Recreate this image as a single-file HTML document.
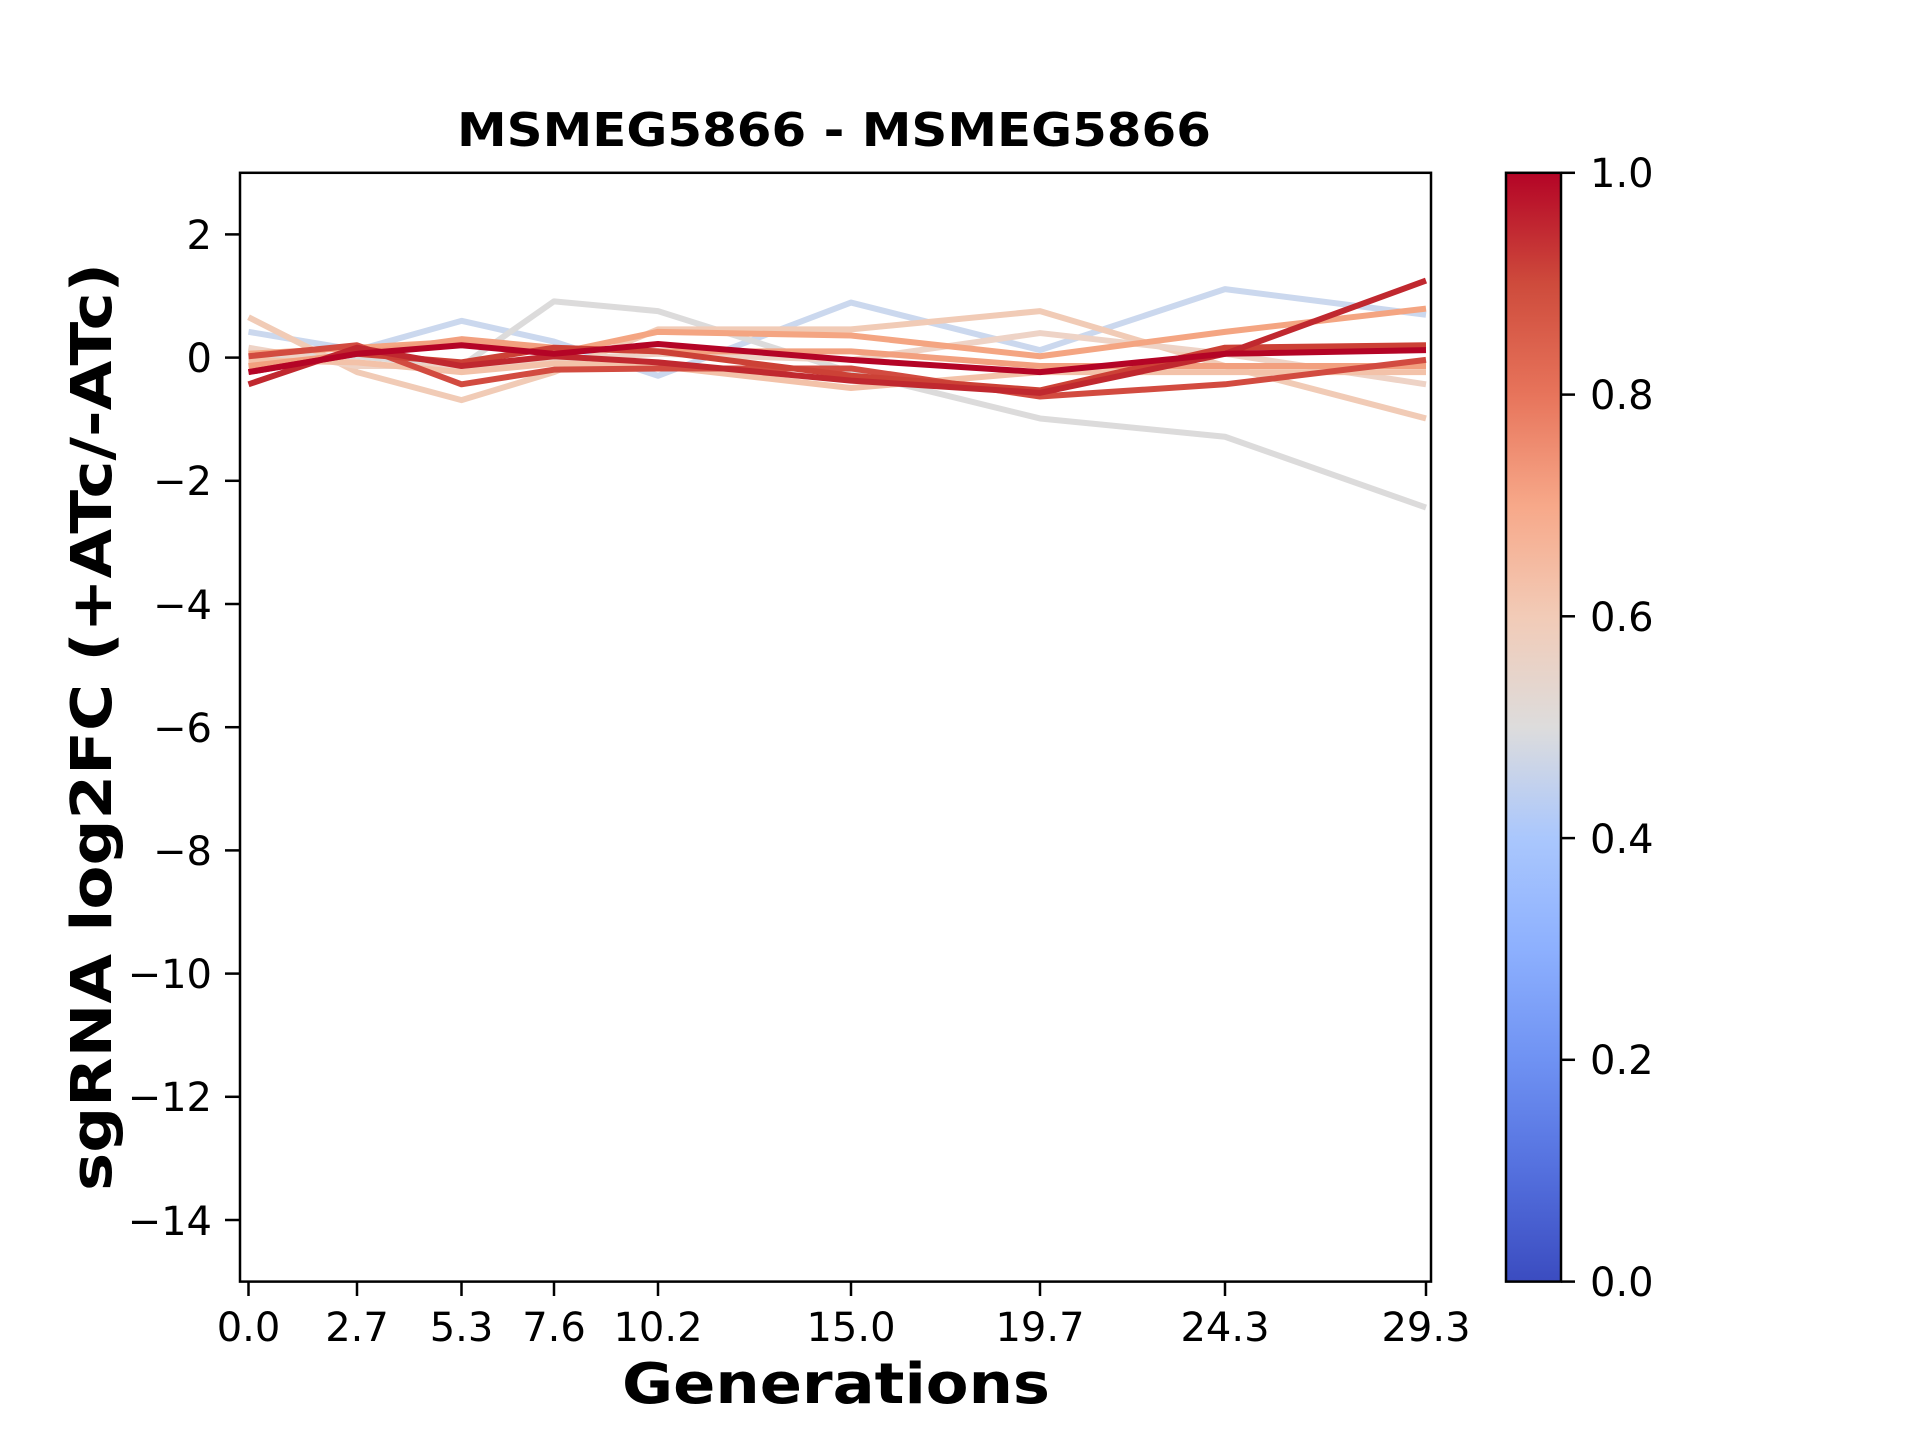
<!DOCTYPE html>
<html><head><meta charset="utf-8"><style>html,body{margin:0;padding:0;background:#fff}svg{display:block}</style></head>
<body>
<svg width="1920" height="1440" xmlns="http://www.w3.org/2000/svg" font-family="'DejaVu Sans','Liberation Sans',sans-serif">
<defs>
<linearGradient id="cw" x1="0" y1="1" x2="0" y2="0">
<stop offset="0" stop-color="#3b4cc0"/><stop offset="0.1" stop-color="#5470de"/><stop offset="0.2" stop-color="#6f92f3"/><stop offset="0.3" stop-color="#8db0fe"/><stop offset="0.4" stop-color="#aac7fd"/><stop offset="0.5" stop-color="#dddcdc"/><stop offset="0.6" stop-color="#f2cbb7"/><stop offset="0.7" stop-color="#f7a889"/><stop offset="0.8" stop-color="#e7745b"/><stop offset="0.9" stop-color="#ce4b3c"/><stop offset="1" stop-color="#b40426"/>
</linearGradient>
<clipPath id="ax"><rect x="240" y="172.8" width="1191" height="1108.8"/></clipPath>
</defs>
<text x="834" y="146" font-size="46" font-weight="bold" text-anchor="middle" textLength="754" lengthAdjust="spacingAndGlyphs">MSMEG5866 - MSMEG5866</text>
<g clip-path="url(#ax)" fill="none" stroke-width="6" stroke-linejoin="round">
<g transform="scale(1,1.22)">
<polyline vector-effect="non-scaling-stroke" stroke="#cbd8ee" points="248.5,272 357,287 461.5,263 554,280 658,308 851,248 1040,287 1225,237 1426,258"/>
<polyline vector-effect="non-scaling-stroke" stroke="#dcdbdb" points="248.5,292 357,292 461.5,300 554,247 658,255 851,305 1040,343 1225,358 1426,416"/>
<polyline vector-effect="non-scaling-stroke" stroke="#f1cbb6" points="248.5,260 357,305 461.5,328 554,305 658,270 851,270 1040,255 1225,300 1426,343"/>
<polyline vector-effect="non-scaling-stroke" stroke="#eed3c6" points="248.5,285 357,300 461.5,300 554,295 658,290 851,295 1040,273 1225,290 1426,315"/>
<polyline vector-effect="non-scaling-stroke" stroke="#f3c2a9" points="248.5,295 357,297 461.5,305 554,298 658,300 851,318 1040,305 1225,305 1426,305"/>
<polyline vector-effect="non-scaling-stroke" stroke="#f4a582" points="248.5,290 357,285 461.5,280 554,290 658,272 851,275 1040,292 1225,272 1426,253"/>
<polyline vector-effect="non-scaling-stroke" stroke="#f2a07f" points="248.5,300 357,290 461.5,278 554,285 658,288 851,288 1040,300 1225,300 1426,300"/>
<polyline vector-effect="non-scaling-stroke" stroke="#d24b40" points="248.5,292 357,283 461.5,315 554,303 658,302 851,302 1040,325 1225,315 1426,295"/>
<polyline vector-effect="non-scaling-stroke" stroke="#cc4136" points="248.5,305 357,290 461.5,297 554,285 658,288 851,308 1040,320 1225,285 1426,283"/>
<polyline vector-effect="non-scaling-stroke" stroke="#c0282f" points="248.5,315 357,285 461.5,300 554,292 658,297 851,312 1040,322 1225,290 1426,230"/>
<polyline vector-effect="non-scaling-stroke" stroke="#b40426" points="248.5,305 357,290 461.5,283 554,290 658,282 851,295 1040,305 1225,290 1426,287"/>
</g>
</g>
<rect x="240" y="172.8" width="1191" height="1108.8" fill="none" stroke="#000" stroke-width="2.5"/>
<g stroke="#000" stroke-width="2.5">
<line x1="225" x2="240" y1="234.4" y2="234.4"/><line x1="225" x2="240" y1="357.6" y2="357.6"/><line x1="225" x2="240" y1="480.8" y2="480.8"/><line x1="225" x2="240" y1="604" y2="604"/><line x1="225" x2="240" y1="727.2" y2="727.2"/><line x1="225" x2="240" y1="850.4" y2="850.4"/><line x1="225" x2="240" y1="973.6" y2="973.6"/><line x1="225" x2="240" y1="1096.8" y2="1096.8"/><line x1="225" x2="240" y1="1220" y2="1220"/>
<line x1="248.5" x2="248.5" y1="1281.6" y2="1296"/><line x1="357" x2="357" y1="1281.6" y2="1296"/><line x1="461.5" x2="461.5" y1="1281.6" y2="1296"/><line x1="554" x2="554" y1="1281.6" y2="1296"/><line x1="658" x2="658" y1="1281.6" y2="1296"/><line x1="851" x2="851" y1="1281.6" y2="1296"/><line x1="1040" x2="1040" y1="1281.6" y2="1296"/><line x1="1225" x2="1225" y1="1281.6" y2="1296"/><line x1="1426" x2="1426" y1="1281.6" y2="1296"/>
</g>
<g font-size="40" text-anchor="end">
<text x="212" y="249">2</text><text x="212" y="372">0</text><text x="212" y="495">−2</text><text x="212" y="619">−4</text><text x="212" y="742">−6</text><text x="212" y="865">−8</text><text x="212" y="988">−10</text><text x="212" y="1111">−12</text><text x="212" y="1235">−14</text>
</g>
<g font-size="40" text-anchor="middle">
<text x="248.5" y="1341">0.0</text><text x="357" y="1341">2.7</text><text x="461.5" y="1341">5.3</text><text x="554" y="1341">7.6</text><text x="658" y="1341">10.2</text><text x="851" y="1341">15.0</text><text x="1040" y="1341">19.7</text><text x="1225" y="1341">24.3</text><text x="1426" y="1341">29.3</text>
</g>
<text x="836" y="1403" font-size="56" font-weight="bold" text-anchor="middle" textLength="428" lengthAdjust="spacingAndGlyphs">Generations</text>
<text transform="translate(111,727) rotate(-90)" font-size="56" font-weight="bold" text-anchor="middle" textLength="928" lengthAdjust="spacingAndGlyphs">sgRNA log2FC (+ATc/-ATc)</text>
<rect x="1506" y="172.8" width="55" height="1108.8" fill="url(#cw)" stroke="#000" stroke-width="2.5"/>
<g stroke="#000" stroke-width="2.5">
<line x1="1561" x2="1575" y1="172.8" y2="172.8"/><line x1="1561" x2="1575" y1="394.6" y2="394.6"/><line x1="1561" x2="1575" y1="616.3" y2="616.3"/><line x1="1561" x2="1575" y1="838.1" y2="838.1"/><line x1="1561" x2="1575" y1="1059.8" y2="1059.8"/><line x1="1561" x2="1575" y1="1281.6" y2="1281.6"/>
</g>
<g font-size="40">
<text x="1590" y="187">1.0</text><text x="1590" y="409">0.8</text><text x="1590" y="631">0.6</text><text x="1590" y="853">0.4</text><text x="1590" y="1074">0.2</text><text x="1590" y="1296">0.0</text>
</g>
</svg>
</body></html>
